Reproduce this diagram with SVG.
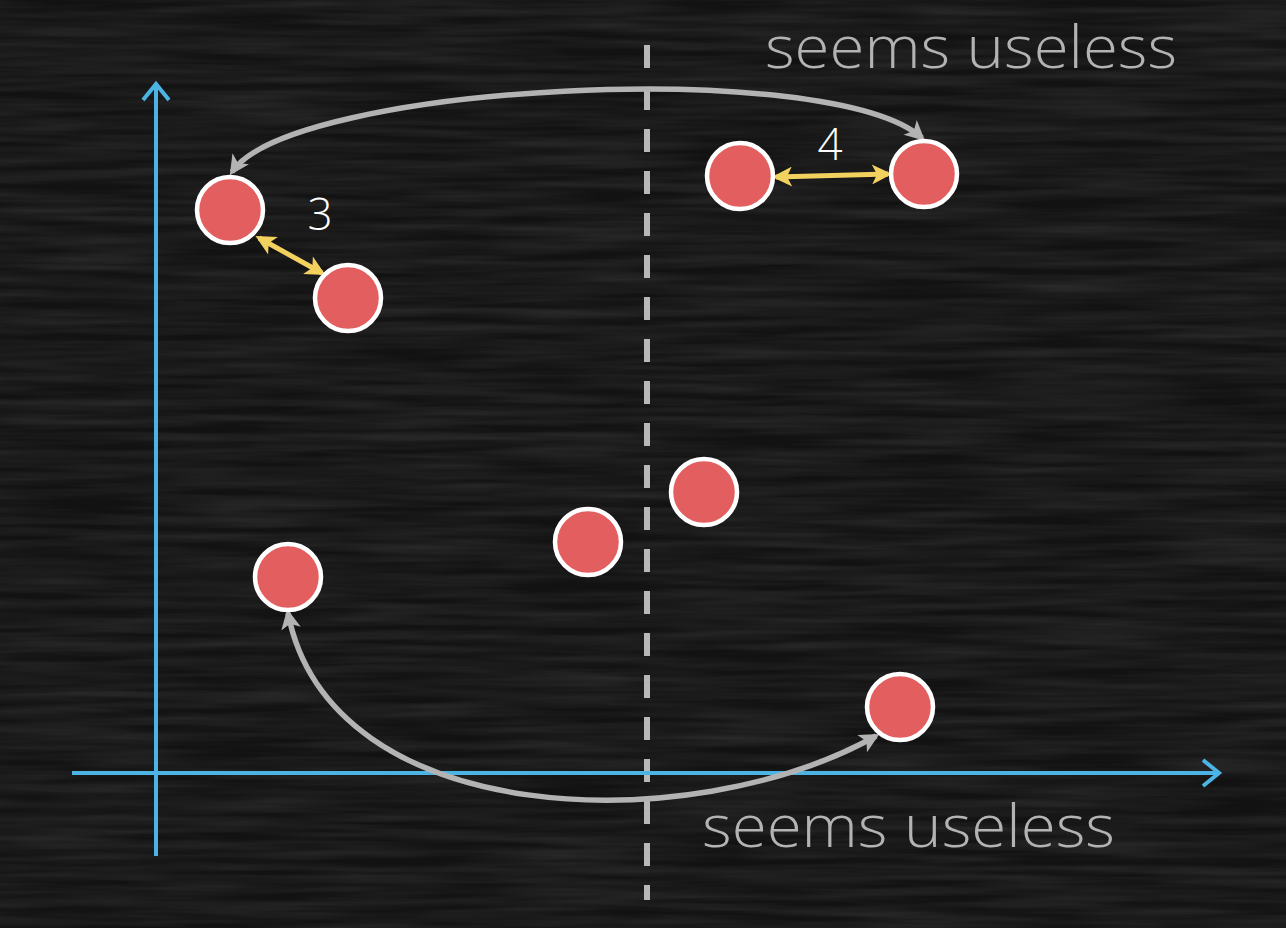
<svg xmlns="http://www.w3.org/2000/svg" width="1286" height="928" viewBox="0 0 1286 928">
<style>
.node{fill:#E35F5F;stroke:#FFFFFF;stroke-width:4.5}
.axis{stroke:#4BB4E4;stroke-width:4;fill:none}
.arc{stroke:#B3B3B3;stroke-width:5.5;fill:none}
.dist{stroke:#F2D15F;stroke-width:5;fill:none}
.num{font-family:"Open Sans","Liberation Sans",sans-serif;font-size:44px;font-weight:300;fill:#FFFFFF}
.lbl{font-family:"Open Sans","Liberation Sans",sans-serif;font-size:58px;font-weight:300;fill:#B3B3B3}
</style>
<defs>
<filter id="chalk" x="0" y="0" width="100%" height="100%">
<feTurbulence type="fractalNoise" baseFrequency="0.006 0.12" numOctaves="3" seed="4" result="n"/>
<feColorMatrix in="n" type="matrix" values="0 0 0 0 0.25  0 0 0 0 0.25  0 0 0 0 0.25  0 0 0 0.3 -0.08"/>
</filter>
<marker id="ga" viewBox="0 0 10 10" refX="8" refY="5" markerWidth="4" markerHeight="3.6" orient="auto-start-reverse" markerUnits="strokeWidth">
<path d="M0,0 L10,5 L0,10 L2.5,5 Z" fill="#B3B3B3"/>
</marker>
<marker id="ya" viewBox="0 0 10 10" refX="8" refY="5" markerWidth="4.4" markerHeight="4" orient="auto-start-reverse" markerUnits="strokeWidth">
<path d="M0,0 L10,5 L0,10 L2.5,5 Z" fill="#F2D15F"/>
</marker>
</defs>
<rect width="1286" height="928" fill="#121212"/>
<rect width="1286" height="928" filter="url(#chalk)"/>
<g id="divider">
<line x1="647" y1="45" x2="647" y2="900" stroke="#B8B8B8" stroke-width="6" stroke-dasharray="23 19"/>
</g>
<g id="axes">
<path class="axis" d="M156,856 V84"/>
<path class="axis" d="M143,100 L156,84 L169,100"/>
<path class="axis" d="M72,773 H1219"/>
<path class="axis" d="M1203,760 L1219,773 L1203,786"/>
</g>
<g id="connectors">
<path class="arc" d="M922,138 C830,56 290,84 232,172" marker-start="url(#ga)" marker-end="url(#ga)"/>
<path class="arc" d="M288,613 C330,830 690,840 876,736" marker-start="url(#ga)" marker-end="url(#ga)"/>
<path class="dist" d="M259,238 L322,273" marker-start="url(#ya)" marker-end="url(#ya)"/>
<path class="dist" d="M776,177 L888,174" marker-start="url(#ya)" marker-end="url(#ya)"/>
</g>
<g id="n1"><circle class="node" cx="230" cy="210" r="33"/></g>
<g id="n2"><circle class="node" cx="348" cy="298" r="33"/></g>
<g id="n3"><circle class="node" cx="740" cy="176" r="33"/></g>
<g id="n4"><circle class="node" cx="924" cy="174" r="33"/></g>
<g id="n5"><circle class="node" cx="704" cy="492" r="33"/></g>
<g id="n6"><circle class="node" cx="588" cy="542" r="33"/></g>
<g id="n7"><circle class="node" cx="288" cy="577" r="33"/></g>
<g id="n8"><circle class="node" cx="900" cy="707" r="33"/></g>
<g id="labels">
<text class="num" x="320" y="230" text-anchor="middle">3</text>
<text class="num" x="830" y="160" text-anchor="middle">4</text>
<text class="lbl" x="765" y="68" textLength="412" lengthAdjust="spacingAndGlyphs">seems useless</text>
<text class="lbl" x="702" y="847" textLength="413" lengthAdjust="spacingAndGlyphs">seems useless</text>
</g>
</svg>
